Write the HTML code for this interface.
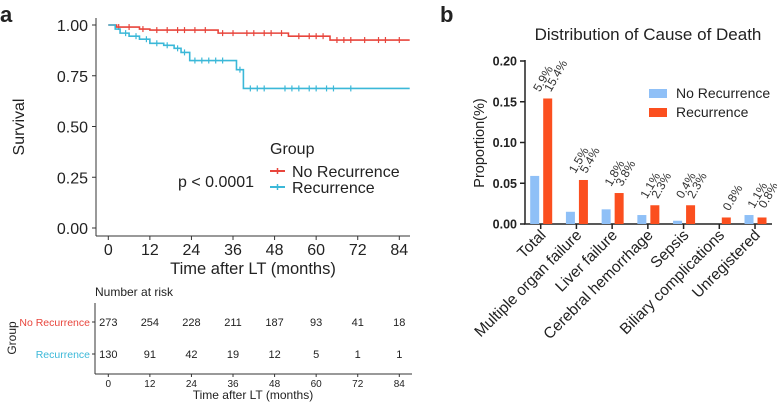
<!DOCTYPE html>
<html><head><meta charset="utf-8">
<style>
html,body{margin:0;padding:0;background:#fff;}
svg{display:block;font-family:"Liberation Sans",Arial,sans-serif;}
</style></head>
<body>
<svg id="chart" width="777" height="402" viewBox="0 0 777 402" xmlns="http://www.w3.org/2000/svg">
<text x="0" y="22" font-size="22" font-weight="bold" fill="#222">a</text>
<text x="440" y="22" font-size="22" font-weight="bold" fill="#222">b</text>
<g id="km"></g>
<g id="risk"></g>
<g id="bars"></g>
</svg>
<script>
// ---- KM data ----
const kmTicks = [0,12,24,36,48,60,72,84];
const kmYTicks = [0,0.25,0.5,0.75,1];
const noRecTimes = [0,2.4,9,12,31.7,52,64];
const noRecSurv = [1,0.99,0.98,0.975,0.96,0.945,0.926];
const recTimes = [0,2,3.4,6,9,12,16,19,21,23.5,37,39];
const recSurv = [1,0.98,0.96,0.945,0.93,0.91,0.9,0.885,0.865,0.825,0.78,0.6875];
const noRecCensor = [3,6,10,14,17,20,22,25,28,33,36,40,42,45,47,50,55,58,60,62,66,68,70,74,78,80,84];
const recCensor = [5,8,11,14,17,20,22,25,27,29,31,33,38,41,43,45,51,53,55,58,60,63,65,70];
// risk table
const riskNo = [273,254,228,211,187,93,41,18];
const riskRec = [130,91,42,19,12,5,1,1];
// ---- bar data ----
const causes = ["Total","Multiple organ failure","Liver failure","Cerebral hemorrhage","Sepsis","Biliary complications","Unregistered"];
const noRecVals = [0.059,0.015,0.018,0.011,0.004,0,0.011];
const recVals = [0.154,0.054,0.038,0.023,0.023,0.008,0.008];
const noRecLabels = ["5.9%","1.5%","1.8%","1.1%","0.4%","","1.1%"];
const recLabels = ["15.4%","5.4%","3.8%","2.3%","2.3%","0.8%","0.8%"];
const barYTicks = [0,0.05,0.10,0.15,0.20];

const NS="http://www.w3.org/2000/svg";
function mk(parent,tag,attrs,text){const e=document.createElementNS(NS,tag);for(const k in attrs)e.setAttribute(k,attrs[k]);if(text!==undefined)e.textContent=text;parent.appendChild(e);return e;}
const RED="#e8453c", BLUE="#3bb8d8";

// KM
const km=document.getElementById('km');
const kx=t=>108.3+t*(399.3-108.3)/84;
const ky=s=>228-s*203;
let e;
e=mk(km,'line',{x1:96,y1:18,x2:96,y2:236,stroke:'#333','stroke-width':1});

e=mk(km,'line',{x1:96,y1:236,x2:410,y2:236,stroke:'#333','stroke-width':1});

kmYTicks.forEach(v=>{
  mk(km,'line',{x1:92,y1:ky(v),x2:96,y2:ky(v),stroke:'#333'});
  e=mk(km,'text',{x:88,y:ky(v)+6,'font-size':16,'text-anchor':'end',fill:'#222'},v.toFixed(2));
  
});
kmTicks.forEach(v=>{
  mk(km,'line',{x1:kx(v),y1:236,x2:kx(v),y2:240,stroke:'#333'});
  e=mk(km,'text',{x:kx(v),y:255,'font-size':16,'text-anchor':'middle',fill:'#222'},v);
  
});
e=mk(km,'text',{x:253,y:274,'font-size':16.5,'text-anchor':'middle',fill:'#222'},'Time after LT (months)');

e=mk(km,'text',{x:0,y:0,'font-size':16,'text-anchor':'middle',fill:'#222',transform:'translate(24,127) rotate(-90)'},'Survival');

function step(times,surv,end){let d='M'+kx(times[0])+','+ky(surv[0]);for(let i=1;i<times.length;i++){d+=' H'+kx(times[i])+' V'+ky(surv[i]);}d+=' H'+kx(end);return d;}
function survAt(times,surv,t){let s=surv[0];for(let i=0;i<times.length;i++)if(times[i]<=t)s=surv[i];return s;}
[[noRecTimes,noRecSurv,noRecCensor,RED,'no-recurrence-curve'],[recTimes,recSurv,recCensor,BLUE,'recurrence-curve']].forEach(([t,s,c,col,nm])=>{
  e=mk(km,'path',{d:step(t,s,87),fill:'none',stroke:col,'stroke-width':1.6});
  
  c.forEach(ct=>{const y=ky(survAt(t,s,ct));
    e=mk(km,'line',{x1:kx(ct),y1:y-3,x2:kx(ct),y2:y+3,stroke:col,'stroke-width':1.2});
    });
});
e=mk(km,'text',{x:270,y:154,'font-size':16,fill:'#222'},'Group');

[[RED,'No Recurrence',171],[BLUE,'Recurrence',187]].forEach(([col,lab,y],i)=>{
  mk(km,'line',{x1:270,y1:y,x2:285,y2:y,stroke:col,'stroke-width':2});
  mk(km,'line',{x1:277.5,y1:y-3,x2:277.5,y2:y+3,stroke:col,'stroke-width':1.5});
  e=mk(km,'text',{x:292,y:y+6,'font-size':16,fill:'#222'},lab);
  
});
e=mk(km,'text',{x:178,y:187,'font-size':16,fill:'#222'},'p < 0.0001');


// risk table
const rk=document.getElementById('risk');
e=mk(rk,'text',{x:95,y:296,'font-size':12,fill:'#222'},'Number at risk');

mk(rk,'line',{x1:95,y1:303,x2:95,y2:374,stroke:'#333'});
mk(rk,'line',{x1:95,y1:374,x2:412,y2:374,stroke:'#333'});
[[riskNo,322,RED,'No Recurrence'],[riskRec,354,BLUE,'Recurrence']].forEach(([arr,y,col,lab])=>{
  mk(rk,'line',{x1:92,y1:y,x2:95,y2:y,stroke:'#333'});
  e=mk(rk,'text',{x:90,y:y+4,'font-size':10.5,'text-anchor':'end',fill:col},lab);
  
  arr.forEach((v,i)=>{e=mk(rk,'text',{x:kx(kmTicks[i]),y:y+4,'font-size':11,'text-anchor':'middle',fill:'#222'},v);
    });
});
kmTicks.forEach(v=>{mk(rk,'line',{x1:kx(v),y1:374,x2:kx(v),y2:377,stroke:'#333'});
  e=mk(rk,'text',{x:kx(v),y:387,'font-size':10,'text-anchor':'middle',fill:'#222'},v);
  });
e=mk(rk,'text',{x:253,y:399,'font-size':12,'text-anchor':'middle',fill:'#222'},'Time after LT (months)');

e=mk(rk,'text',{x:0,y:0,'font-size':12,'text-anchor':'middle',fill:'#222',transform:'translate(16,338) rotate(-90)'},'Group');


// bars
const bg=document.getElementById('bars');
const by=v=>224-v*(224-61)/0.2;
const bx=i=>540.7+i*35.72;
e=mk(bg,'text',{x:648,y:40,'font-size':17,'text-anchor':'middle',fill:'#222'},'Distribution of Cause of Death');

mk(bg,'line',{x1:525,y1:60,x2:525,y2:224,stroke:'#222','stroke-width':1.5});
mk(bg,'line',{x1:524,y1:224,x2:772,y2:224,stroke:'#222','stroke-width':1.5});
barYTicks.forEach(v=>{mk(bg,'line',{x1:520,y1:by(v),x2:525,y2:by(v),stroke:'#222','stroke-width':1.5});
  e=mk(bg,'text',{x:517,y:by(v)+4.5,'font-size':12.5,'font-weight':'bold','text-anchor':'end',fill:'#222'},v.toFixed(2));
  });
e=mk(bg,'text',{x:0,y:0,'font-size':14.5,'text-anchor':'middle',fill:'#222',transform:'translate(484,143) rotate(-90)'},'Proportion(%)');

causes.forEach((c,i)=>{
  const x=bx(i);
  mk(bg,'line',{x1:x,y1:224,x2:x,y2:229,stroke:'#222','stroke-width':1.5});
  if(noRecVals[i]>0){e=mk(bg,'rect',{x:x-10.5,y:by(noRecVals[i]),width:9,height:224-by(noRecVals[i]),fill:'#8fc0f7'});
    }
  e=mk(bg,'rect',{x:x+2.5,y:by(recVals[i]),width:9,height:224-by(recVals[i]),fill:'#fb4f1f'});
  
  const top=Math.min(by(noRecVals[i]),by(recVals[i]));
  if(noRecLabels[i]){e=mk(bg,'text',{x:0,y:0,'font-size':12,fill:'#333',transform:`translate(${x-1},${top-6}) rotate(-60)`},noRecLabels[i]);
    }
  e=mk(bg,'text',{x:0,y:0,'font-size':12,fill:'#333',transform:`translate(${x+10},${top-6}) rotate(-60)`},recLabels[i]);
  
  e=mk(bg,'text',{x:0,y:0,'font-size':15.5,'text-anchor':'end',fill:'#222',transform:`translate(${x+6},${236}) rotate(-45)`},c);
  
});
[['#8fc0f7','No Recurrence',89],['#fb4f1f','Recurrence',108]].forEach(([col,lab,y])=>{
  e=mk(bg,'rect',{x:649,y:y,width:18,height:9,fill:col});
  
  e=mk(bg,'text',{x:676,y:y+9,'font-size':14,fill:'#222'},lab);
  
});
</script>
</body></html>
